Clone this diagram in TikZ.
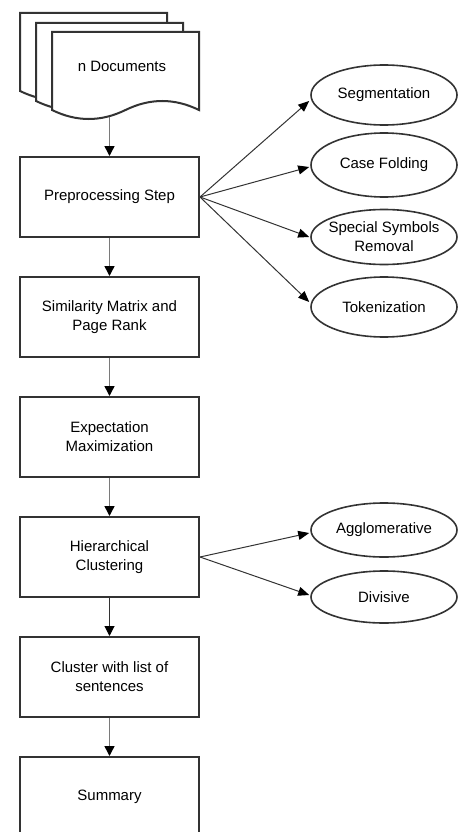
\documentclass[tikz,border=0pt]{standalone}
\usepackage{fontspec}
\setmainfont{Liberation Sans}
\usetikzlibrary{shapes.geometric,arrows.meta}
\definecolor{boxgray}{HTML}{333333}
\definecolor{arrgray}{HTML}{7A7A7A}
\tikzset{
  box/.style={draw=boxgray, line width=2pt, fill=white, minimum width=179pt, minimum height=80pt, align=center, inner sep=2pt},
  oval/.style={ellipse, draw=boxgray, line width=1.6pt, fill=white, minimum width=146pt, minimum height=#1, inner sep=0pt, align=center},
  sheet/.style={draw=boxgray, line width=2pt, fill=white, line join=miter},
  flow/.style={draw=arrgray, line width=1.5pt, -{Triangle[width=10pt,length=10pt,color=black]}},
  fan/.style={draw=boxgray, line width=1pt, -{Triangle[width=9pt,length=11pt,color=black]}}
}
\newcommand\docsheet[2]{%
  \draw[sheet] (#1,#2) -- ++(147,0) -- ++(0,78)
    .. controls +(-24.5,-12) and +(24.5,-12) .. ++(-73.5,0)
    .. controls +(-24.5,12) and +(24.5,12) .. ++(-73.5,0) -- cycle;}
\begin{document}
\begin{tikzpicture}[x=1pt,y=-1pt,font=\fontsize{15}{19}\selectfont]
\useasboundingbox (0,0) rectangle (459,832);
\clip (0,0) rectangle (459,832);

% stacked documents
\docsheet{20}{13}
\docsheet{36}{23}
\docsheet{52}{32}
\node (docs) at (122,66) {n Documents};
\coordinate (docbot) at (109.5,117);

% main flow boxes
\node[box] (pre)  at (109.5,197) {Preprocessing Step};
\node[box] (sim)  at (109.5,317) {Similarity Matrix and\\Page Rank};
\node[box] (exp)  at (109.5,437) {Expectation\\Maximization};
\node[box] (hier) at (109.5,557) {Hierarchical\\Clustering};
\node[box] (clu)  at (109.5,677) {Cluster with list of\\sentences};
\node[box] (sum)  at (109.5,797) {Summary};

% preprocessing sub-steps
\node[oval=60pt] (seg)  at (384,95)  {Segmentation};
\node[oval=64pt] (case) at (384,165) {Case Folding};
\node[oval=55pt, label={[align=center,font=\fontsize{15}{19}\selectfont]center:Special Symbols\\Removal}] (spec) at (384,237) {};
\node[oval=60pt] (tok)  at (384,307) {Tokenization};

% clustering types
\node[oval=54pt] (agg) at (384,530) {Agglomerative};
\node[oval=52pt] (div) at (384,597) {Divisive};

% connectors
\draw[flow] (docbot) -- (pre);
\draw[flow] (pre) -- (sim);
\draw[flow] (sim) -- (exp);
\draw[flow] (exp) -- (hier);
\draw[flow,draw=boxgray,line width=1pt] (hier) -- (clu);
\draw[flow] (clu) -- (sum);

\draw[fan] (pre.east) -- ([xshift=-1pt,yshift=-6pt]seg.west);
\draw[fan] (pre.east) -- ([xshift=-1pt,yshift=-2pt]case.west);
\draw[fan] (pre.east) -- ([xshift=-1pt]spec.west);
\draw[fan] (pre.east) -- ([xshift=-1pt,yshift=5pt]tok.west);
\draw[fan] (hier.east) -- ([xshift=-1pt,yshift=-3pt]agg.west);
\draw[fan] (hier.east) -- ([xshift=-1pt,yshift=2pt]div.west);
\end{tikzpicture}
\end{document}
